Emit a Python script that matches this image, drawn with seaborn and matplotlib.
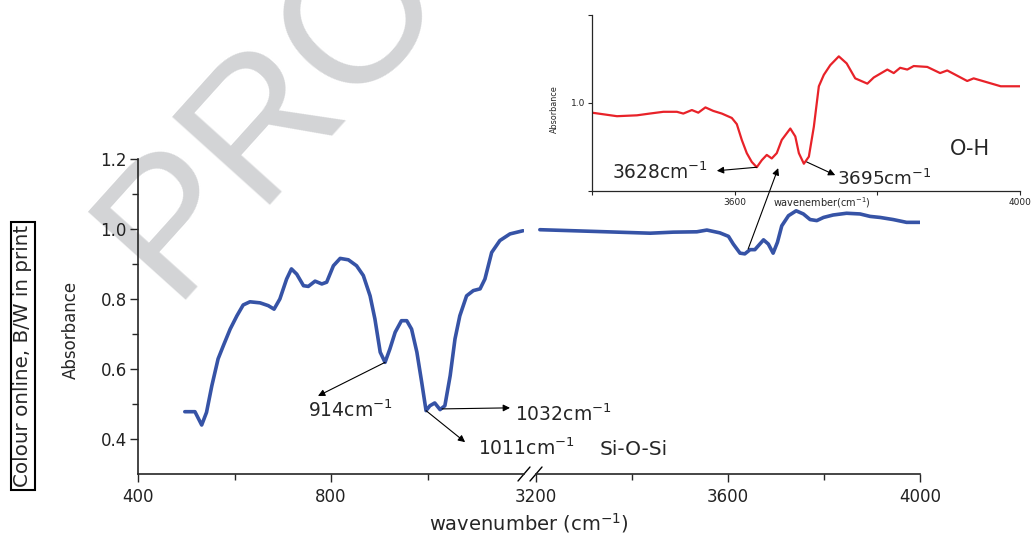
import matplotlib
matplotlib.use("Agg")
import matplotlib.pyplot as plt
import seaborn as sns
import pandas as pd

# spectrum, fingerprint part (wavenumber cm-1, absorbance)
wn_low = [497, 518, 532, 542, 553, 566, 577, 591, 605, 618, 632, 653, 670, 682, 694,
          708, 718, 729, 743, 753, 767, 781, 791, 805, 819, 836, 853, 867, 881, 891,
          902, 912, 922, 933, 946, 957, 967, 978, 988, 997, 1005, 1015, 1026, 1036,
          1047, 1057, 1067, 1081, 1095, 1109, 1119, 1133, 1150, 1171, 1198]
abs_low = [0.478, 0.478, 0.440, 0.476, 0.552, 0.629, 0.667, 0.714, 0.752, 0.783, 0.792,
           0.789, 0.781, 0.771, 0.800, 0.857, 0.886, 0.871, 0.838, 0.836, 0.851, 0.843,
           0.848, 0.895, 0.916, 0.912, 0.895, 0.867, 0.809, 0.743, 0.648, 0.619, 0.657,
           0.705, 0.738, 0.738, 0.714, 0.648, 0.562, 0.481, 0.495, 0.503, 0.484, 0.495,
           0.581, 0.686, 0.752, 0.809, 0.824, 0.829, 0.857, 0.933, 0.967, 0.986, 0.995]

# spectrum, O-H part
wn_high = [3208, 3278, 3347, 3438, 3486, 3535, 3556, 3583, 3601, 3611, 3625, 3635, 3646,
           3656, 3674, 3684, 3694, 3703, 3712, 3726, 3742, 3757, 3771, 3785, 3799, 3819,
           3847, 3875, 3896, 3917, 3944, 3972, 4000]
abs_high = [0.998, 0.995, 0.992, 0.988, 0.991, 0.992, 0.997, 0.989, 0.979, 0.957, 0.931,
            0.929, 0.941, 0.941, 0.969, 0.957, 0.931, 0.962, 1.009, 1.038, 1.052, 1.043,
            1.027, 1.024, 1.033, 1.040, 1.045, 1.043, 1.036, 1.033, 1.027, 1.019, 1.019]

# inset, O-H region enlarged
wn_inset = [3400, 3435, 3463, 3481, 3500, 3519, 3528, 3540, 3549, 3559, 3570, 3582, 3596,
            3603, 3610, 3617, 3624, 3631, 3638, 3645, 3652, 3659, 3666, 3678, 3685, 3690,
            3697, 3704, 3711, 3718, 3725, 3734, 3746, 3757, 3769, 3786, 3795, 3814, 3823,
            3832, 3842, 3851, 3870, 3888, 3898, 3926, 3935, 3973, 4000]
abs_inset = [0.989, 0.985, 0.986, 0.988, 0.990, 0.990, 0.988, 0.992, 0.989, 0.995, 0.991,
             0.988, 0.983, 0.976, 0.958, 0.943, 0.933, 0.927, 0.935, 0.941, 0.937, 0.943,
             0.958, 0.971, 0.962, 0.943, 0.931, 0.939, 0.973, 1.019, 1.032, 1.043, 1.053,
             1.045, 1.028, 1.022, 1.029, 1.038, 1.034, 1.040, 1.038, 1.042, 1.041, 1.034,
             1.037, 1.025, 1.028, 1.019, 1.019]

sns.set_style("ticks")
plt.rcParams['font.family'] = ['DejaVu Sans']

blue = '#3653a6'
red = '#e82229'
W, H = 1033, 534


def px_box(x0, x1, ytop, ybot):
    return [x0 / W, 1 - ybot / H, (x1 - x0) / W, (ybot - ytop) / H]


fig = plt.figure(figsize=(W / 100, H / 100), dpi=100)
ax1 = fig.add_axes(px_box(138, 524, 159, 474))
ax2 = fig.add_axes(px_box(536, 920, 159, 474))
axi = fig.add_axes(px_box(592, 1020, 15, 191))

# watermark behind everything
fig.text(170 / W, 1 - 300 / H, "PRO", rotation=48, rotation_mode='anchor',
         ha='left', va='baseline', fontsize=138, color='#d3d4d6', zorder=-1,
         family='Liberation Sans')

df_low = pd.DataFrame({'wn': wn_low, 'a': abs_low})
df_high = pd.DataFrame({'wn': wn_high, 'a': abs_high})
df_in = pd.DataFrame({'wn': wn_inset, 'a': abs_inset})

sns.lineplot(data=df_low, x='wn', y='a', ax=ax1, color=blue, lw=2.6, estimator=None, sort=False)
sns.lineplot(data=df_high, x='wn', y='a', ax=ax2, color=blue, lw=2.6, estimator=None, sort=False)
sns.lineplot(data=df_in, x='wn', y='a', ax=axi, color=red, lw=1.6, estimator=None, sort=False)

for ax in (ax1, ax2, axi):
    ax.patch.set_visible(False)
    ax.set_xlabel('')
    ax.set_ylabel('')

# main axes
ax1.set_xlim(400, 1200)
ax2.set_xlim(3200, 4000)
for ax in (ax1, ax2):
    ax.set_ylim(0.3, 1.2)
    for s in ax.spines.values():
        s.set_linewidth(1.2)
    ax.tick_params(which='major', length=6, width=1, labelsize=12, pad=4, labelcolor='#222222')
    ax.tick_params(which='minor', length=4, width=1)
sns.despine(ax=ax1)
sns.despine(ax=ax2, left=True)

ax1.set_xticks([400, 800])
ax1.set_xticks([600, 1000], minor=True)
ax2.set_xticks([3200, 3600, 4000])
ax2.set_xticks([3400, 3800], minor=True)
ax1.set_yticks([0.4, 0.6, 0.8, 1.0, 1.2])
ax1.set_yticks([0.5, 0.7, 0.9, 1.1], minor=True)
ax1.tick_params(axis='y', pad=2)
ax2.set_yticks([])

# axis break marks
for ax, xa, wpx in ((ax1, 1.0, 386), (ax2, 0.0, 384)):
    ax.plot([xa - 6 / wpx, xa + 6 / wpx], [-7 / 315, 7 / 315], transform=ax.transAxes,
            color='k', lw=1, clip_on=False)

ax1.set_ylabel("Absorbance", fontsize=12)
ax1.yaxis.set_label_coords(-0.151, 0.457)
fig.text(529 / W, 1 - 530 / H, "wavenumber (cm$^{-1}$)", ha='center', va='baseline', fontsize=14)

fig.text(23 / W, 1 - 356 / H, "Colour online, B/W in print", rotation=90, ha='center',
         va='center', fontsize=14.3,
         bbox=dict(boxstyle='square,pad=0.15', fc='white', ec='k', lw=1.5))

# peak annotations, main plot
arrow = dict(arrowstyle='-|>', color='k', lw=0.8, mutation_scale=10, shrinkA=0, shrinkB=0)
ax1.annotate('', xy=(773, 0.523), xytext=(912, 0.619), arrowprops=arrow)
ax1.annotate('', xy=(1078, 0.391), xytext=(997, 0.481), arrowprops=arrow)
ax1.annotate('', xy=(1171, 0.489), xytext=(1030, 0.486), arrowprops=arrow)
ax1.text(753, 0.462, "914cm$^{-1}$", fontsize=13.5, va='baseline')
ax1.text(1105, 0.354, "1011cm$^{-1}$", fontsize=13.5, va='baseline')
ax1.text(1181, 0.451, "1032cm$^{-1}$", fontsize=13.5, va='baseline')
ax1.text(1357, 0.354, "Si-O-Si", fontsize=14.5, va='baseline')

# inset
axi.set_xlim(3400, 4000)
axi.set_ylim(0.9, 1.1)
sns.despine(ax=axi)
for s in axi.spines.values():
    s.set_linewidth(0.9)
axi.set_xticks([3400, 3600, 3800, 4000])
axi.set_xticklabels(['', '3600', '', '4000'])
axi.set_yticks([0.9, 1.0, 1.1])
axi.set_yticklabels(['', '1.0', ''])
axi.tick_params(length=3, width=0.8, pad=2, labelsize=6.5, labelcolor='#222222')
axi.set_ylabel("Absorbance", fontsize=5.8)
axi.yaxis.set_label_coords(-0.077, 0.466)
axi.set_xlabel("wavenember(cm$^{-1}$)", fontsize=7)
axi.xaxis.set_label_coords(0.537, -0.023)

axi.annotate('', xy=(3575, 0.923), xytext=(3631, 0.927), arrowprops=arrow)
axi.annotate('', xy=(3741, 0.918), xytext=(3701, 0.933), arrowprops=arrow)
axi.text(3428, 0.914, "3628cm$^{-1}$", fontsize=13.4, va='baseline')
axi.text(3743, 0.907, "3695cm$^{-1}$", fontsize=13.2, va='baseline')
axi.text(3902, 0.941, "O-H", fontsize=15, va='baseline')

# link from the main O-H band up to the inset
axi.annotate('', xy=(3661, 0.926), xytext=(3642, 0.943), textcoords=ax2.transData,
             arrowprops=arrow)

fig.savefig("out.png", dpi=100)
